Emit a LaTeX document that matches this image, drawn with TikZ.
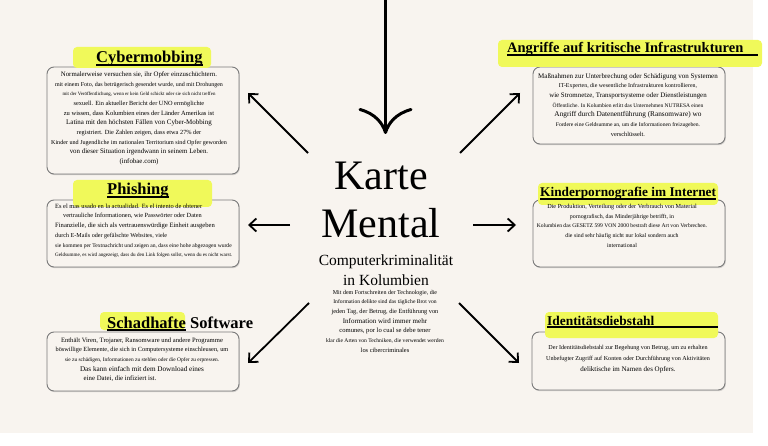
\documentclass[tikz,border=0pt]{standalone}
\usepackage{fontspec}
\setmainfont{Liberation Serif}
\usetikzlibrary{arrows.meta, shadows}
\definecolor{mapbg}{HTML}{F8F4EF}
\definecolor{mapyellow}{HTML}{F0F95A}
\definecolor{mapgrey}{HTML}{7A7A7A}
\tikzset{
  card/.style={rectangle, rounded corners=7pt, draw=mapgrey, line width=0.9pt, fill=mapbg,
               drop shadow={shadow xshift=0.8pt, shadow yshift=-1.2pt, opacity=0.3}},
  hilite/.style={rectangle, rounded corners=4pt, fill=mapyellow, inner sep=0pt},
  headtxt/.style={anchor=base west, inner sep=0pt, font=\bfseries},
  bodytxt/.style={anchor=north, inner sep=0pt, align=center, font=\fontsize{6}{9.7}\selectfont},
  pointer/.style={-{Straight Barb[length=7pt,width=13pt]}, line width=1.8pt},
  bigpointer/.style={-{Computer Modern Rightarrow[length=26pt,width=54pt]}, line width=3pt},
}
\newcommand{\fsz}[1]{\fontsize{#1}{9.7}\selectfont}
\newcommand{\uln}[2][0pt]{\setbox0=\hbox{#2}\rlap{\rule[-2.6pt]{\dimexpr\wd0+#1\relax}{1.3pt}}\box0\relax}

\begin{document}
\begin{tikzpicture}[x=1pt, y=-1pt]
  \useasboundingbox (0,0) rectangle (768,446);
  \fill[white] (0,0) rectangle (768,446);
  \fill[mapbg] (0,0) rectangle (753,433);

  % cards
  \node[card, minimum width=192, minimum height=107] (cyb) at (143,120.5) {};
  \node[card, minimum width=192, minimum height=67] (phish) at (143,233.5) {};
  \node[card, minimum width=192, minimum height=59] (schad) at (143,361.5) {};
  \node[card, minimum width=192, minimum height=77] (angr) at (629,105.5) {};
  \node[card, minimum width=192, minimum height=67] (kind) at (629,233.5) {};
  \node[card, minimum width=193, minimum height=58] (ident) at (628.5,361) {};

  % headings
  \node[hilite, minimum width=138, minimum height=21] (cybhl) at (142,57.5) {};
  \node[hilite, minimum width=139, minimum height=27] (phishhl) at (142.5,193.5) {};
  \node[hilite, minimum width=85, minimum height=18] (schadhl) at (142.5,321) {};
  \node[hilite, minimum width=264, minimum height=27] (angrhl) at (630,53.5) {};
  \node[hilite, minimum width=180, minimum height=22] (kindhl) at (628,194) {};
  \node[hilite, minimum width=173, minimum height=26] (identhl) at (631.5,325) {};

  \node[headtxt, font=\bfseries\fontsize{16.5}{18}\selectfont] (cybhead) at (96,63) {\uln{Cybermobbing}};
  \node[headtxt, font=\bfseries\fontsize{16.5}{18}\selectfont] (phishhead) at (107,195) {\uln{Phishing}};
  \node[headtxt, font=\bfseries\fontsize{16.5}{18}\selectfont] (schadhead) at (107,328) {\uln{Schadhafte} Software};
  \node[headtxt, font=\bfseries\fontsize{14.5}{16}\selectfont] (angrhead) at (507,53) {\uln[15pt]{Angriffe auf kritische Infrastrukturen}};
  \node[headtxt, font=\bfseries\fontsize{13.3}{15}\selectfont] (kindhead) at (540,197) {\uln{Kinderpornografie im Internet}};
  \node[headtxt, font=\bfseries\fontsize{13.4}{15}\selectfont] (identhead) at (547,325) {\uln[64pt]{Identitätsdiebstahl}};

  % card texts
  \node[bodytxt] (cybtxt) at (139,71.4) {\fsz{6.8}Normalerweise versuchen sie, ihr Opfer einzuschüchtern.\\
    \fsz{6.0}mit einem Foto, das betrügerisch gesendet wurde, und mit Drohungen\\
    \fsz{4.9}mit der Veröffentlichung, wenn er kein Geld schickt oder sie sich nicht treffen\\
    \fsz{6.3}sexuell. Ein aktueller Bericht der UNO ermöglichte\\
    \fsz{6.5}zu wissen, dass Kolumbien eines der Länder Amerikas ist\\
    \fsz{7.0}Latina mit den höchsten Fällen von Cyber-Mobbing\\
    \fsz{6.3}registriert. Die Zahlen zeigen, dass etwa 27\% der\\
    \fsz{6.1}Kinder und Jugendliche im nationalen Territorium sind Opfer geworden\\
    \fsz{6.9}von dieser Situation irgendwann in seinem Leben.\\
    \fsz{6.9}(infobae.com)};
  \node[bodytxt, anchor=north west, align=left] (phishtxt) at (55,203.6) {\fsz{6.4}Es el mas usado en la actualidad. Es el intento de obtener\\
    \fsz{6.3}\hspace*{8pt}vertrauliche Informationen, wie Passwörter oder Daten\\
    \fsz{6.6}Finanzielle, die sich als vertrauenswürdige Einheit ausgeben\\
    \fsz{6.1}durch E-Mails oder gefälschte Websites, viele\\
    \fsz{5.6}sie kommen per Textnachricht und zeigen an, dass eine hohe abgezogen wurde\\
    \fsz{5.1}Geldsumme, es wird angezeigt, dass du den Link folgen sollst, wenn du es nicht warst.};
  \node[bodytxt] (schadtxt) at (142,337.4) {\fsz{6.6}Enthält Viren, Trojaner, Ransomware und andere Programme\\
    \fsz{6.3}böswillige Elemente, die sich in Computersysteme einschleusen, um\\
    \fsz{5.4}sie zu schädigen, Informationen zu stehlen oder die Opfer zu erpressen.\\
    \fsz{7.2}Das kann einfach mit dem Download eines\hspace*{44pt}\\
    \fsz{6.8}eine Datei, die infiziert ist.\hspace*{44pt}};
  \node[bodytxt] (angrtxt) at (628,73) {\fsz{7.0}Maßnahmen zur Unterbrechung oder Schädigung von Systemen\\
    \fsz{5.9}IT-Experten, die wesentliche Infrastrukturen kontrollieren,\\
    \fsz{6.9}wie Stromnetze, Transportsysteme oder Dienstleistungen\\
    \fsz{5.5}Öffentliche. In Kolumbien erlitt das Unternehmen NUTRESA einen\\
    \fsz{7.3}Angriff durch Datenentführung (Ransomware) wo\\
    \fsz{5.6}Fordere eine Geldsumme an, um die Informationen freizugeben.\\
    \fsz{6.3}verschlüsselt.};
  \node[bodytxt] (kindtxt) at (622,203.8) {\fsz{6.2}Die Produktion, Verteilung oder der Verbrauch von Material\\
    \fsz{5.9}pornografisch, das Minderjährige betrifft, in\\
    \fsz{5.6}Kolumbien das GESETZ 599 VON 2000 bestraft diese Art von Verbrechen.\\
    \fsz{5.8}die sind sehr häufig nicht nur lokal sondern auch\\
    \fsz{5.9}international};
  \node[bodytxt] (identtxt) at (628,344.8) {\fsz{6.1}Der Identitätsdiebstahl zur Begehung von Betrug, um zu erhalten\\[1.3pt]
    \fsz{6.1}Unbefugter Zugriff auf Konten oder Durchführung von Aktivitäten\\[1.3pt]
    \fsz{7.0}deliktische im Namen des Opfers.};

  % centre
  \node[anchor=north, inner sep=0pt, align=center, font=\fontsize{42}{48}\selectfont] (title) at (381,162) {Karte\\Mental};
  \node[anchor=north, inner sep=0pt, align=center, font=\fontsize{15.5}{20}\selectfont] (subtitle) at (386,254.5) {Computerkriminalität\\in Kolumbien};
  \node[bodytxt] (intro) at (385,289.7) {\fsz{6.0}Mit dem Fortschreiten der Technologie, die\\
    \fsz{5.6}Information delikte sind das tägliche Brot von\\
    \fsz{6.3}jeden Tag, der Betrug, die Entführung von\\
    \fsz{7.0}Information wird immer mehr\\
    \fsz{6.6}comunes, por lo cual se debe tener\\
    \fsz{5.6}klar die Arten von Techniken, die verwendet werden\\
    \fsz{6.4}los cibercriminales};

  % arrows
  \coordinate (topin) at (385.5,0);
  \coordinate (toptip) at (385.5,134);
  \draw[bigpointer] (topin) -- (toptip);
  \coordinate (s1) at (308,153); \coordinate (e1) at (248,93);
  \coordinate (s2) at (460,153); \coordinate (e2) at (520,93);
  \coordinate (s3) at (290,225); \coordinate (e3) at (248,225);
  \coordinate (s4) at (473,225); \coordinate (e4) at (516,225);
  \coordinate (s5) at (309,303); \coordinate (e5) at (248,363);
  \coordinate (s6) at (459,303); \coordinate (e6) at (519,363);
  \foreach \i in {1,...,6}{ \draw[pointer] (s\i) -- (e\i); }
\end{tikzpicture}
\end{document}
